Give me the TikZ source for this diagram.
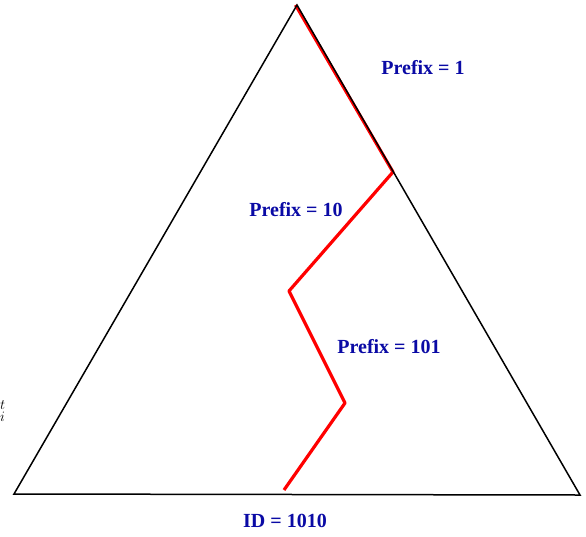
\documentclass[tikz,border=0pt]{standalone}
\usepackage{fontspec}
\newfontfamily\lblfont{Liberation Serif}
\definecolor{lblblue}{RGB}{10,10,165}
\begin{document}
\begin{tikzpicture}[x=1pt,y=-1pt,
  lbl/.style={font=\lblfont\bfseries\fontsize{20}{23}\selectfont,text=lblblue,inner sep=0pt},
  edge/.style={black,line width=1.5pt},
  route/.style={red,line width=3.2pt,line join=round}]
\useasboundingbox (0,0) rectangle (586,536);
\coordinate (A) at (297,5);
\coordinate (L) at (14,494);
\coordinate (R) at (580,495);
\coordinate (p1) at (295.5,5);
\coordinate (p2) at (393,172);
\coordinate (p3) at (289,291);
\coordinate (p4) at (345,403);
\coordinate (p5) at (284,490);
\draw[route] (p1) -- (p2) -- (p3) -- (p4) -- (p5);
\draw[edge,line join=miter] (L) -- (A) -- (R) -- cycle;
\node[lbl] (l1) at (423,68) {Prefix = 1};
\node[lbl] (l2) at (296,210) {Prefix = 10};
\node[lbl] (l3) at (389,347) {Prefix = 101};
\node[lbl] (l4) at (285,521) {ID = 1010};
\node[inner sep=0pt,font=\fontsize{21}{24}\selectfont,anchor=west] (ti) at (0,411) {$^t_i$};
\end{tikzpicture}
\end{document}
